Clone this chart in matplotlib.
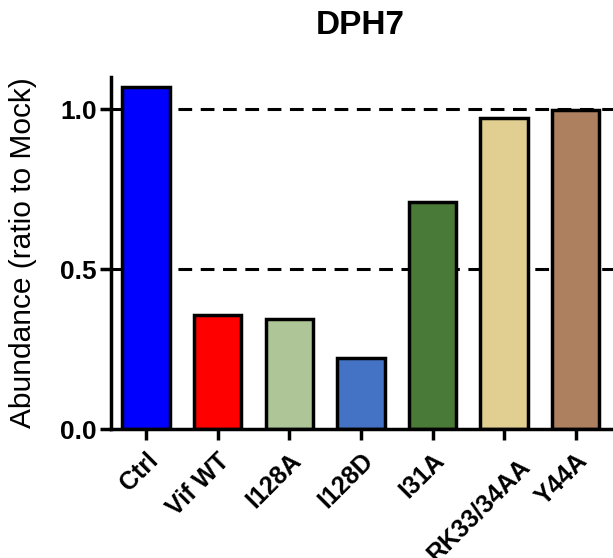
import numpy as np
import matplotlib.pyplot as plt
from matplotlib.transforms import ScaledTranslation

plt.rcParams['font.family'] = ['Liberation Sans', 'DejaVu Sans']

# abundance of DPH7 relative to mock, per Vif construct
groups = ['Ctrl', 'Vif WT', 'I128A', 'I128D', 'I31A', 'RK33/34AA', 'Y44A']
abundance = [1.07, 0.355, 0.343, 0.223, 0.71, 0.972, 0.997]
colors = ['#0000FF', '#FF0000', '#AEC697', '#4472C4', '#4A7A38', '#E0CF91', '#AD8160']

fig = plt.figure(figsize=(6.13, 5.58), dpi=100)
ax = fig.add_axes([0.181, 0.231, 0.84, 0.631])

x = np.arange(len(groups))

# reference lines sit behind the bars
for level in [0.5, 1.0]:
    ax.axhline(level, color='black', lw=2.2, ls=(0, (4.5, 2.8)), zorder=1)

ax.bar(x, abundance, width=0.66, color=colors, edgecolor='black',
       linewidth=2.5, zorder=2)

ax.set_xlim(-0.49, 6.7)
ax.set_ylim(0, 1.1)
ax.set_yticks([0.0, 0.5, 1.0])
ax.set_yticklabels(['0.0', '0.5', '1.0'], fontsize=19, fontweight='bold')

# the long label is drawn on its own, nudged down-right
shifted = 'RK33/34AA'
ax.set_xticks(x)
ax.set_xticklabels(['' if g == shifted else g for g in groups], fontsize=18,
                   fontweight='bold', rotation=45, ha='right',
                   rotation_mode='anchor')
i = groups.index(shifted)
offset = ScaledTranslation(0.14, -(14 / 72) - 0.06, fig.dpi_scale_trans)
ax.text(x[i], 0, shifted, transform=ax.get_xaxis_transform() + offset,
        fontsize=18, fontweight='bold', rotation=45, ha='right', va='top',
        rotation_mode='anchor', clip_on=False)

for side in ['top', 'right']:
    ax.spines[side].set_visible(False)
for side in ['left', 'bottom']:
    ax.spines[side].set_linewidth(2.5)
ax.tick_params(axis='both', direction='out', length=8, width=2.5, pad=2)
ax.tick_params(axis='x', pad=6)

ax.set_ylabel('Abundance (ratio to Mock)', fontsize=21.5, labelpad=17)
fig.text(360 / 613, 1 - 25 / 558, 'DPH7', fontsize=24, fontweight='bold',
         ha='center', va='center')

fig.savefig('out.png', dpi=100)
